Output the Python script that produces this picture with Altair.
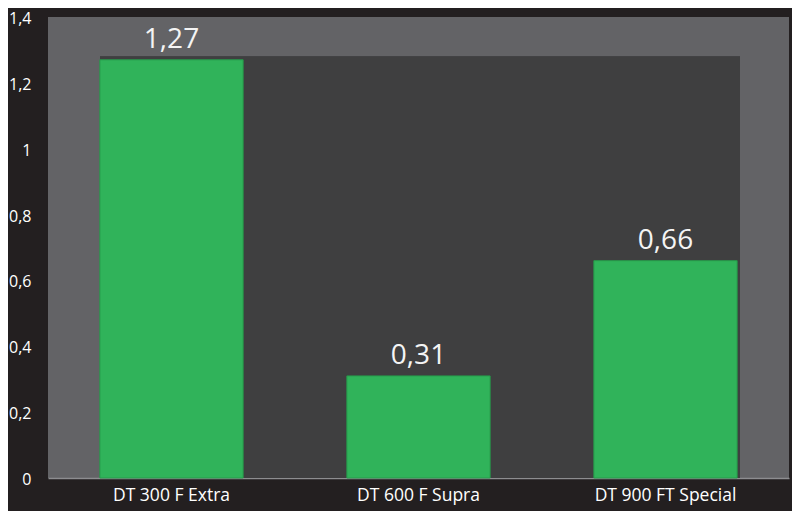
import altair as alt
import pandas as pd

products = ["DT 300 F Extra", "DT 600 F Supra", "DT 900 FT Special"]
values = [1.27, 0.31, 0.66]
y_ticks = [0, 0.2, 0.4, 0.6, 0.8, 1.0, 1.2, 1.4]

df = pd.DataFrame({"product": products, "value": values})
df["label"] = [f"{v:.2f}".replace(".", ",") for v in values]

FONT = "Open Sans"
W, H = 741, 461

x_enc = alt.X(
    "product:N",
    sort=products,
    title=None,
    scale=alt.Scale(paddingInner=0.42, paddingOuter=0.21),
    axis=alt.Axis(
        labelAngle=0, labelFontSize=17.5, labelColor="#ffffff", labelFont=FONT,
        labelPadding=8, ticks=False, domainColor="#8d8d90", domainWidth=1.5,
        grid=False,
    ),
)
y_enc = alt.Y(
    "value:Q",
    title=None,
    scale=alt.Scale(domain=[0, 1.4], nice=False),
    axis=alt.Axis(
        values=y_ticks, labelFontSize=16, labelColor="#ffffff", labelFont=FONT,
        labelPadding=17, labelOffset=1.5, ticks=False, domain=False, grid=False,
        labelExpr="replace(format(datum.value, '~f'), '.', ',')",
    ),
)

# darker inner panel behind the bars
inner = alt.Chart(df).mark_rect(color="#3f3f40").encode(
    x=alt.value(52),
    x2=alt.value(692),
    y=alt.Y(datum=1.28, scale=alt.Scale(domain=[0, 1.4], nice=False)),
    y2=alt.Y2(datum=0),
)

base = alt.Chart(df).encode(x=x_enc, y=y_enc)

bars = base.mark_bar(color="#30b35a", stroke="#269a4a", strokeWidth=1)

labels = base.mark_text(
    baseline="alphabetic", dy=-12, fontSize=28, font=FONT, color="#f4f4f4"
).encode(text="label:N")

chart = alt.layer(inner, bars, labels).properties(
    width=W,
    height=H,
    autosize=alt.AutoSizeParams(type="none"),
    padding={"left": 40, "top": 9, "right": 3, "bottom": 33},
    background="#231f20",
).configure_view(fill="#636366", strokeWidth=0)

chart.save("out.html", embed_options={"renderer": "svg", "actions": False})
